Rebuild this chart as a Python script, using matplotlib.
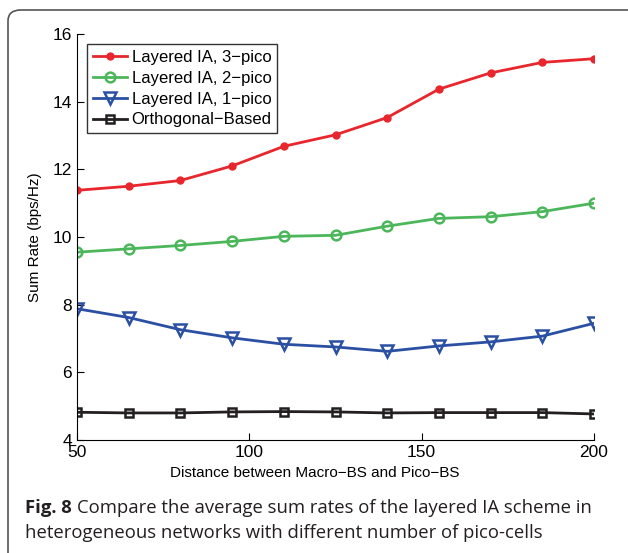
import matplotlib.pyplot as plt
from matplotlib.patches import FancyBboxPatch

# data
distance = [50, 65, 80, 95, 110, 125, 140, 155, 170, 185, 200]
rate_3pico = [11.38, 11.50, 11.67, 12.10, 12.68, 13.02, 13.53, 14.37, 14.85, 15.16, 15.27]
rate_2pico = [9.55, 9.65, 9.75, 9.87, 10.02, 10.05, 10.32, 10.55, 10.60, 10.75, 11.00]
rate_1pico = [7.88, 7.62, 7.26, 7.02, 6.83, 6.75, 6.62, 6.78, 6.90, 7.07, 7.45]
rate_orth = [4.82, 4.80, 4.80, 4.83, 4.84, 4.83, 4.80, 4.81, 4.81, 4.81, 4.77]
x_ticks = [50, 100, 150, 200]
y_ticks = [4, 6, 8, 10, 12, 14, 16]

plt.rcParams['font.family'] = ['Liberation Sans', 'DejaVu Sans']

fig = plt.figure(figsize=(6.28, 5.53), dpi=100)

# rounded frame around figure + caption
frame = FancyBboxPatch((8 / 628, -0.1), 1.2, 1.1 - 10 / 553,
                       boxstyle='round,pad=0,rounding_size=0.02',
                       transform=fig.transFigure, fill=False,
                       edgecolor='#555555', linewidth=1.2)
fig.patches.append(frame)

ax = fig.add_axes([77 / 628, 1 - 440 / 553, (594 - 77) / 628, (440 - 34) / 553])

ax.plot(distance, rate_3pico, color='#e8262d', lw=2, marker='o', ms=5,
        markerfacecolor='#e8262d', label='Layered IA, 3\u2212pico')
ax.plot(distance, rate_2pico, color='#4cb75a', lw=2, marker='o', ms=7,
        markerfacecolor='none', mew=1.8, label='Layered IA, 2\u2212pico')
ax.plot(distance, rate_1pico, color='#2a4fa3', lw=2, marker='v', ms=8,
        markerfacecolor='none', mew=1.8, label='Layered IA, 1\u2212pico')
ax.plot(distance, rate_orth, color='#231f20', lw=2, marker='s', ms=6,
        markerfacecolor='none', mew=1.8, label='Orthogonal\u2212Based')

ax.set_xlim(50, 200)
ax.set_ylim(4, 16)
ax.set_xticks(x_ticks)
ax.set_yticks(y_ticks)
ax.spines['top'].set_visible(False)
ax.spines['right'].set_visible(False)
ax.tick_params(direction='in', labelsize=12.5, length=5)
ax.set_xlabel('Distance between Macro\u2212BS and Pico\u2212BS', fontsize=11)
ax.xaxis.set_label_coords(0.46, -0.065)
ax.set_ylabel('Sum Rate (bps/Hz)', fontsize=11, labelpad=8)

leg = ax.legend(loc='upper left', bbox_to_anchor=(0.02, 0.975), fontsize=12,
                frameon=True, fancybox=False, edgecolor='black',
                handlelength=2.0, handletextpad=0.3, borderpad=0.35,
                labelspacing=0.35, borderaxespad=0)
leg.get_frame().set_linewidth(1)

# caption: bold "Fig. 8" followed by normal text
cap_x = 25 / 628
t1 = fig.text(cap_x, 1 - 508 / 553, 'Fig. 8', fontsize=13.3, va='center',
              family='Open Sans', weight='bold', color='#231f20')
fig.canvas.draw()
bb = t1.get_window_extent(fig.canvas.get_renderer())
fig.text(bb.x1 / fig.bbox.width + 5 / 628, 1 - 508 / 553,
         'Compare the average sum rates of the layered IA scheme in',
         fontsize=13.3, va='center', family='Open Sans', color='#231f20')
fig.text(cap_x, 1 - 533 / 553,
         'heterogeneous networks with different number of pico-cells',
         fontsize=13.3, va='center', family='Open Sans', color='#231f20')

fig.savefig('out.png', dpi=100)
